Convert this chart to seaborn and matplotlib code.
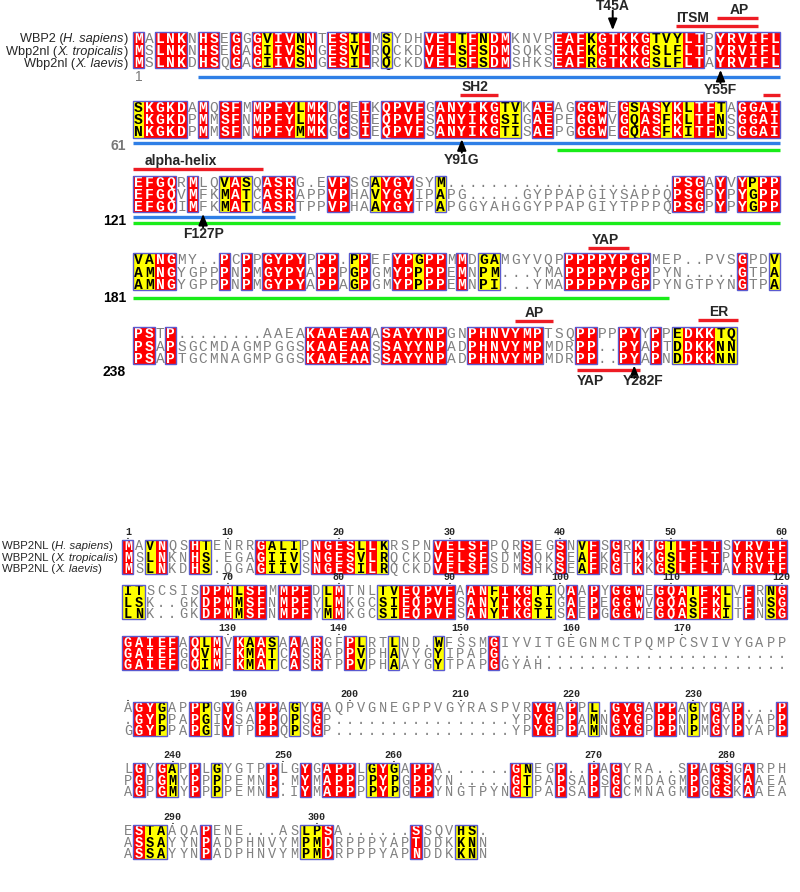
import matplotlib
matplotlib.use("Agg")
import matplotlib.pyplot as plt
import seaborn as sns
import numpy as np
from matplotlib.colors import ListedColormap
from matplotlib.patches import Rectangle
from matplotlib.font_manager import FontProperties, findfont

# ---------------- top alignment: WBP2 / Wbp2nl ----------------
top_names = ["WBP2", "Wbp2nl", "Wbp2nl"]
top_species = ["H. sapiens", "X. tropicalis", "X. laevis"]
top_block_labels = ["1", "61", "121", "181", "238"]

top_seqs = [
    ["MALNKNHSEGGGVIVNNTESILMSYDHVELTFNDMKNVPEAFKGTKKGTVYLTPYRVIFL",
     "MSLNKNHSEGAGIIVSNGESVLRQCKDVELSFSDMSQKSEAFKGTKKGSLFLTPYRVIFL",
     "MSLNKDHSQGAGIIVSNGESILRQCKDVELSFSDMSHKSEAFRGTKKGSLFLTAYRVIFL"],
    ["SKGKDAMQSFMMPFYLMKDCEIKQPVFGANYIKGTVKAEAGGGWEGSASYKLTFTAGGAI",
     "SKGKDPMMSFNMPFYLMKGCSIEQPVFSANYIKGSIGAEPEGGWVGQASFKLTFNSGGAI",
     "NKGKDPMMSFNMPFYMMKGCSIEQPVFSANYIKGTISAEPGGGWEGQASFKITFNSGGAI"],
    ["EFGQRMLQVASQASRG.EVPSGAYGYSYM.....................PSGAYVYPPP",
     "EFGQVMFKMATCASRAPPVPHAVYGYIPAPG.....GYPPAPGIYSAPPQPSGPYPYGPP",
     "EFGQIMFKMATCASRTPPVPHAAYGYTPAPGGYAHGGYPPAPGIYTPPPQPSGPYPYGPP"],
    ["VANGMY..PCPPGYPYPPP.PPEFYPGPPMMDGAMGYVQPPPPPYPGPMEP..PVSGPDV",
     "AMNGYGPPPNPMGYPYAPPPGPGMYPPPPEMNPM...YMAPPPPYPGPPYN.....GTPA",
     "AMNGYGPPPNPMGYPYAPPAGPGMYPPPPEMNPI...YMAPPPPYPGPPYNGTPYNGTPA"],
    ["PSTP........AAEAKAAEAAASAYYNPGNPHNVYMPTSQPPPPPYYPPEDKKTQ",
     "PSAPSGCMDAGMPGGSKAAEAASSAYYNPADPHNVYMPMDRPP..PYAPTDDKKNN",
     "PSAPTGCMNAGMPGGSKAAEAASSAYYNPADPHNVYMPMDRPP..PYAPNDDKKNN"],
]
# r = strictly conserved (red), y = similar (yellow), - = not conserved
top_cons = [
    "r-rrr-rr-r" "-ryrryr-rr" "yr-y---rrr" "yryrr----r" "rryrrrrryy" "yrr-rrrrrr",
    "yrrrr-r-rr" "-rrrryrr-r" "-r-rrrr-rr" "rrrryy-rr-" "-rrr-ryrry" "ryrry-rrrr",
    "rrrr-r--yr" "y-rrr---rr" "--yrrr--y-" "----------" "----------" "rrr-r-ryrr",
    "yyrr----r-" "r-rrrr-rr-" "yr--rryrr-" "r-yy------" "rrrrrrrr--" "------r--y",
    "rr-r------" "------rrrr" "rr-rrrrrr-" "-rrrrrrr--" "-rr--rr-r-" "yrrryy",
]

# domain lines under blocks: (block, first col, last col, colour)
top_domains = [(0, 6.0, 60, "blue"), (1, 0, 60, "blue"), (1, 39.3, 60, "green"),
               (2, 0, 15.0, "blue"), (2, 0, 60, "green"), (3, 0, 49.7, "green")]
# red feature bars: (block, from col, to col, label, label col)
top_bars = [(0, 50.4, 58.0, "ITSM", 51.9), (0, 54.2, 58.0, "AP", 56.2),
            (1, 30.3, 33.9, "SH2", 31.7), (1, 58.4, 60.0, "", 0),
            (2, 0.0, 12.1, "alpha-helix", 4.4), (3, 42.2, 46.0, "YAP", 43.8),
            (4, 35.4, 39.0, "AP", 37.2), (4, 52.4, 56.1, "ER", 54.3),
            (4, 41.2, 47.0, "YAP", 42.4)]
# point mutations: (block, column, label, arrow direction)
top_mutations = [(0, 44, "T45A", "down"), (0, 54, "Y55F", "up"),
                 (1, 30, "Y91G", "up"), (2, 6, "F127P", "up"),
                 (4, 46, "Y282F", "up")]

# ---------------- bottom alignment: WBP2NL ----------------
bot_names = ["WBP2NL", "WBP2NL", "WBP2NL"]
bot_species = ["H. sapiens", "X. tropicalis", "X. laevis"]
bot_seqs = [
    ["MAVNQSHTENRRGALIPNGESLLKRSPNVELSFPQRSEGSNVFSGRKTGTLFLTSYRVIF",
     "MSLNKNHS.EGAGIIVSNGESVLRQCKDVELSFSDMSQKSEAFKGTKKGSLFLTPYRVIF",
     "MSLNKDHS.QGAGIIVSNGESILRQCKDVELSFSDMSHKSEAFRGTKKGSLFLTAYRVIF"],
    ["ITSCSISDPMLSFMMPFDLMTNLTVEQPVFAANFIKGTIQAAPYGGWEGQATFKLVFRNG",
     "LSK..GKDPMMSFNMPFYLMKGCSIEQPVFSANYIKGSIGAEPEGGWVGQASFKLTFNSG",
     "LNK..GKDPMMSFNMPFYMMKGCSIEQPVFSANYIKGTISAEPGGGWEGQASFKITFNSG"],
    ["GAIEFAQLMVKAASAAARGFPLRTLND.WFSSMGIYVITGEGNMCTPQMPCSVIVYGAPP",
     "GAIEFGQVMFKMATCASRAPPVPHAVYGYIPAPG..........................",
     "GAIEFGQIMFKMATCASRTPPVPHAAYGYTPAPGGYAH......................"],
    ["AGYGAPPPGYGAPPAGYGAQPVGNEGPPVGYRASPVRYGAPPL.GYGAPPAGYGAP...P",
     ".GYPPAPGIYSAPPQPSGP................YPYGPPAMNGYGPPPNPMGYPYAPP",
     "GGYPPAPGIYTPPPQPSGP................YPYGPPAMNGYGPPPNPMGYPYAPP"],
    ["LGYGAPPLGYGTPPLGYGAPPLGYGAPPA......GNEGP..PAGYRA..SPAGSGARPH",
     "PGPGMYPPPPEMNP.MYMAPPPPYPGPPYN.....GTPAPSAPSGCMDAGMPGGSKAAEA",
     "AGPGMYPPPPEMNP.IYMAPPPPYPGPPYNGTPYNGTPAPSAPTGCMNAGMPGGSKAAEA"],
    ["ESTAAQAPENE...ASLPSA......SSQVHS.",
     "ASSAYYNPADPHNVYMPMDRPPPYAPTDDKKNN",
     "ASSAYYNPADPHNVYMPMDRPPPYAPNDDKKNN"],
]
bot_cons = [
    "r-yr--ry--" "--ryyy-rrr" "ryry----rr" "rrr---r--r" "-yr-r-r-ry" "rrrr-rrrrr",
    "yy-----rrr" "yrr-rrr-yr" "---yyrrrrr" "-rryrrryy-" "r-r-rrr-rr" "ryrry-r-yr",
    "rrrrr-ryr-" "ryry-r-r--" "ry--y---y-" "---r------" "----------" "----------",
    "-rry--ry-r" "--rr-y-r--" "----------" "-------rr-" "r-y-rrr-rr" "-y-r-r---r",
    "-r-ry-r-y-" "---r--r-rr" "r-yry-rr--" "-----ry--r" "--r-r-----" "-r-rr-r---",
    "-ryy---r--" "------yyr-" "------r---" "yy-",
]

# ---------------- style / layout ----------------
W, H = 800, 892
RED, YEL, FRAME = "#ff0000", "#ffff00", "#5a5ad0"
LINE_COL = {"blue": "#2f7fe6", "green": "#19ec19"}
BAR_RED = "#ee1c24"
LEVEL = {"-": 0, "y": 1, "r": 2}
CONS_CMAP = ListedColormap(["white", YEL, RED])
MONO = "Liberation Mono"

sns.set_theme(style="white")
plt.rcParams["font.family"] = ["Liberation Sans", "DejaVu Sans"]

fig = plt.figure(figsize=(W / 100, H / 100), dpi=100)
rend = fig.canvas.get_renderer()


def px_axes(x, y, w, h):
    return fig.add_axes([x / W, 1 - (y + h) / H, w / W, h / H])


def metrics(txt, **kw):
    return rend.get_text_width_height_descent(txt, FontProperties(**kw), ismath=False)


def spacing_for(pitch, **kw):
    # matplotlib line pitch = descent + linespacing * (ascent of "lp")
    _, lh, ld = metrics("lp", **kw)
    return (pitch - ld) / (lh - ld)


def draw_block(seqs, cons, x0, y0, cw, rh, fsize):
    n, nrow = len(cons), len(seqs)
    ax = px_axes(x0, y0, n * cw, nrow * rh)
    grid = np.array([[LEVEL[c] for c in cons] for _ in seqs])
    sns.heatmap(grid, ax=ax, cmap=CONS_CMAP, vmin=-0.5, vmax=2.5, cbar=False,
                xticklabels=False, yticklabels=False)
    ls = spacing_for(rh, family=MONO, size=fsize, weight="bold")
    _, mh, md = metrics("M", family=MONO, size=fsize, weight="bold")
    # baseline of the last row (va="baseline" anchors the last line)
    base_last = nrow - 0.5 + 0.5 * (mh - md) / rh
    # one text per alignment column (class is shared by the whole column)
    for j in range(n):
        c = cons[j]
        if c == "r":
            col, wt = "white", "bold"
        elif c == "y":
            col, wt = "black", "bold"
        else:
            col, wt = "#808080", "normal"
        column = "\n".join(s[j] for s in seqs)
        ax.text(j + 0.5, base_last, column, ha="center", va="baseline",
                multialignment="center", linespacing=ls, color=col,
                fontweight=wt, fontsize=fsize, family=MONO)
    j = 0
    while j < n:
        if cons[j] != "-":
            k = j
            while k < n and cons[k] != "-":
                k += 1
            ax.add_patch(Rectangle((j, 0), k - j, nrow, fill=False,
                                   ec=FRAME, lw=1.0, clip_on=False, zorder=5))
            j = k
        else:
            j += 1
    return ax


# ---- top panel geometry ----
TX0, TCW, TRH = 133.0, 10.78, 12.2
TY = [31.7, 101.0, 175.7, 253.3, 327.3]
for b, (seqs, cons) in enumerate(zip(top_seqs, top_cons)):
    draw_block(seqs, cons, TX0, TY[b], TCW, TRH, 10.5)

# ---- bottom panel geometry ----
BX0, BCW, BRH = 122.4, 11.08, 11.3
BY = [539.6, 584.8, 636.0, 701.6, 762.6, 824.6]
for b, (seqs, cons) in enumerate(zip(bot_seqs, bot_cons)):
    draw_block(seqs, cons, BX0, BY[b], BCW, BRH, 9.8)

# overlay axes in pixel coordinates for labels and features
ov = fig.add_axes([0, 0, 1, 1])
ov.set_xlim(0, W)
ov.set_ylim(H, 0)
ov.axis("off")


def tcol(c):
    return TX0 + c * TCW


def name_label(x_right, x_left, y, name, species, fam, size):
    parts = [(f"{name} (", "normal"), (species, "italic"), (")", "normal")]
    widths = [metrics(t, family=fam, size=size, style=s)[0] for t, s in parts]
    x = x_left if x_left is not None else x_right - sum(widths)
    for (t, s), w in zip(parts, widths):
        ov.text(x, y, t, fontsize=size, style=s, family=fam, va="center_baseline")
        x += w


for i in range(3):
    name_label(128, None, TY[0] + (i + 0.5) * TRH, top_names[i], top_species[i],
               "Liberation Sans", 9.2)

# bottom names use a narrow face when there is one; otherwise shrink to fit
try:
    findfont(FontProperties(family="Liberation Sans Narrow"), fallback_to_default=False)
    bfam = "Liberation Sans Narrow"
except Exception:
    bfam = "Liberation Sans"
bsize = 10.0
widest = f"{bot_names[1]} ({bot_species[1]})"
while metrics(widest, family=bfam, size=bsize)[0] > 116 and bsize > 6:
    bsize -= 0.1
for i in range(3):
    name_label(None, 2, BY[0] + (i + 0.5) * BRH, bot_names[i], bot_species[i],
               bfam, bsize)

# top block numbers
num_styles = [("#777777", "normal"), ("#777777", "bold"), ("black", "bold"),
              ("black", "bold"), ("black", "bold")]
for b, lab in enumerate(top_block_labels):
    y = TY[b] + 3 * TRH + 8.5
    colr, wt = num_styles[b]
    if b == 0:
        ov.text(TX0 + 2, y, lab, ha="left", va="center", color=colr,
                fontweight=wt, fontsize=10)
    else:
        ov.text(126, y, lab, ha="right", va="center", color=colr,
                fontweight=wt, fontsize=10)

# domain lines
line_off = {(0, "blue"): 8.5, (1, "blue"): 5, (1, "green"): 12,
            (2, "blue"): 5, (2, "green"): 11, (3, "green"): 8}
for b, c0, c1, colr in top_domains:
    y = TY[b] + 3 * TRH + line_off[(b, colr)]
    ov.plot([tcol(c0), tcol(c1)], [y, y], color=LINE_COL[colr],
            lw=2.4, solid_capstyle="butt")

# red feature bars
bar_off = {(0, "ITSM"): -6, (0, "AP"): -13.4, (1, "SH2"): -6, (1, ""): -6,
           (2, "alpha-helix"): -6.5, (3, "YAP"): -5.3, (4, "AP"): -6,
           (4, "ER"): -7}
for b, c0, c1, lab, lc in top_bars:
    if (b, lab) in bar_off:
        y = TY[b] + bar_off[(b, lab)]
        ly = y - 8
    else:
        y = TY[b] + 3 * TRH + 5.7
        ly = y + 11
    ov.plot([tcol(c0), tcol(c1)], [y, y], color=BAR_RED, lw=2.4,
            solid_capstyle="butt")
    if lab:
        ov.text(tcol(lc), ly, lab, ha="center", va="center",
                fontweight="bold", fontsize=10)

# mutation arrows
for b, c, lab, d in top_mutations:
    x = tcol(c + 0.5)
    if d == "down":
        tip, tail, ly = TY[b] - 1.5, TY[b] - 21, TY[b] - 26
    else:
        bottom = TY[b] + 3 * TRH
        tip, tail, ly = bottom + 1.5, bottom + 15, bottom + 22
        if lab == "Y282F":
            tail, ly = bottom + 14, bottom + 17
    ov.annotate("", xy=(x, tip), xytext=(x, tail),
                arrowprops=dict(arrowstyle="-|>,head_length=0.55,head_width=0.22",
                                color="black", lw=1.4, shrinkA=0, shrinkB=0))
    lx = x + 9 if lab == "Y282F" else x
    ov.text(lx, ly, lab, ha="center", va="center", fontweight="bold", fontsize=10)

# bottom residue numbering (from the H. sapiens row): number with a dot below
tick_kw = dict(family=MONO, size=7.2, weight="bold")
tick_ls = spacing_for(4.0, **tick_kw)
res = 0
for b, seqs in enumerate(bot_seqs):
    for j, ch in enumerate(seqs[0]):
        if ch == ".":
            continue
        res += 1
        if res % 10 == 0 or res == 1:
            x = BX0 + (j + 0.5) * BCW
            label = "." if (j == 0 and res >= 10) else f"{res}\n."
            ov.text(x, BY[b] - 0.6, label, ha="center", va="baseline",
                    multialignment="center", linespacing=tick_ls,
                    fontsize=7.2, fontweight="bold", family=MONO)

fig.savefig("out.png", dpi=100, facecolor="white")
